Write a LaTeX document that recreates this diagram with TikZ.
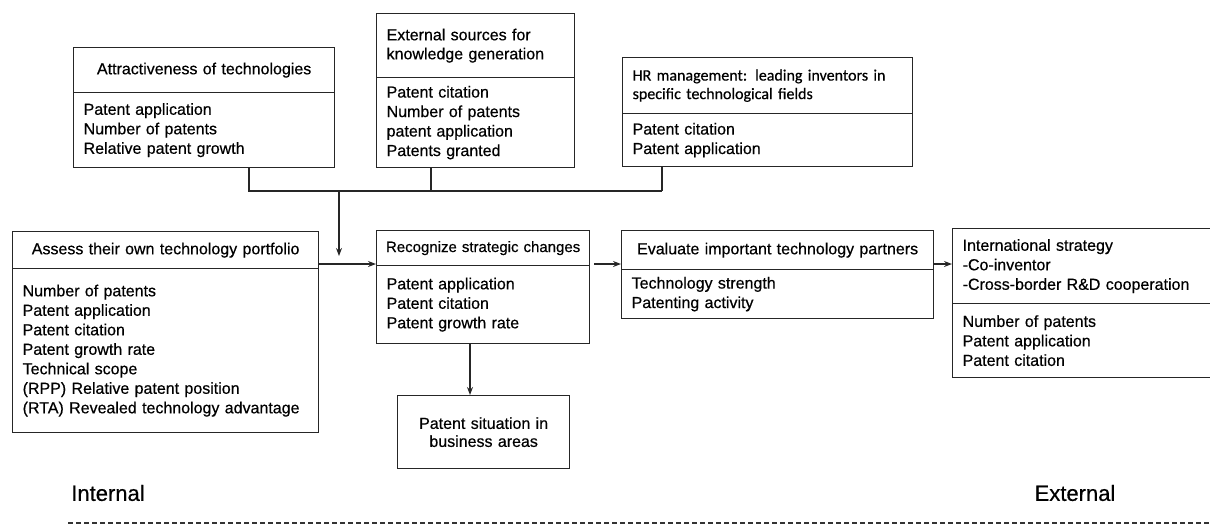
\documentclass[tikz,border=0pt]{standalone}
\usepackage{fontspec}
\setmainfont{Liberation Sans}[FakeBold=0.5]
\newfontfamily\calib{Carlito}[FakeBold=0.5]
\usetikzlibrary{arrows.meta}
\tikzset{
  bx/.style={draw=black!85, line width=1.3pt, anchor=north west, inner xsep=0pt, inner ysep=0pt,
    text=black, font=\fontsize{16}{19.5}\selectfont},
  lft/.style={align=left},
  ctr/.style={align=center},
  conn/.style={draw=black!85, line width=1.3pt},
  arr/.style={conn, -{Stealth[length=8pt,width=6pt]}},
  side/.style={text=black, font=\fontsize{22}{26}\selectfont, inner sep=0pt}
}
\begin{document}
\begin{tikzpicture}[x=1pt,y=-1pt]
\useasboundingbox (0,0) rectangle (1210,531);
% top row
\node[bx, ctr, minimum width=261pt, minimum height=45pt, text width=241pt] (attH) at (73,47) {Attractiveness of technologies};
\node[bx, lft, minimum width=261pt, minimum height=75pt, text width=241pt] (attB) at (73,92) {Patent application\\Number of patents\\Relative patent growth};
\node[bx, lft, minimum width=198pt, minimum height=64pt, text width=178pt, font=\fontsize{16}{19}\selectfont] (extH) at (376,13) {External sources for\\knowledge generation};
\node[bx, lft, minimum width=198pt, minimum height=90pt, text width=178pt] (extB) at (376,77) {Patent citation\\Number of patents\\patent application\\Patents granted};
\node[bx, lft, minimum width=290pt, minimum height=56pt, text width=270pt, font=\calib\fontsize{16}{18.5}\selectfont] (hrH) at (622,57) {HR management: leading inventors in\\specific technological fields};
\node[bx, lft, minimum width=290pt, minimum height=53pt, text width=270pt] (hrB) at (622,113) {Patent citation\\Patent application};
% middle row
\node[bx, ctr, minimum width=306pt, minimum height=37pt, text width=286pt] (asH) at (12,231) {Assess their own technology portfolio};
\node[bx, lft, minimum width=306pt, minimum height=164pt, text width=286pt] (asB) at (12,268) {Number of patents\\Patent application\\Patent citation\\Patent growth rate\\Technical scope\\(RPP) Relative patent position\\(RTA) Revealed technology advantage};
\node[bx, ctr, minimum width=213pt, minimum height=35pt, text width=207pt, font=\fontsize{15}{18}\selectfont] (recH) at (376,230) {Recognize strategic changes};
\node[bx, lft, minimum width=213pt, minimum height=78pt, text width=193pt] (recB) at (376,265) {Patent application\\Patent citation\\Patent growth rate};
\node[bx, ctr, minimum width=172pt, minimum height=73pt, text width=152pt, font=\fontsize{16}{18}\selectfont] (patS) at (397,395) {Patent situation in\\business areas};
\node[bx, ctr, minimum width=312pt, minimum height=39pt, text width=292pt] (evH) at (621,230) {Evaluate important technology partners};
\node[bx, lft, minimum width=312pt, minimum height=49pt, text width=292pt] (evB) at (621,269) {Technology strength\\Patenting activity};
\node[bx, lft, minimum width=272pt, minimum height=75pt, text width=252pt] (intH) at (952,228) {International strategy\\-Co-inventor\\-Cross-border R\&D cooperation};
\node[bx, lft, minimum width=272pt, minimum height=74pt, text width=252pt] (intB) at (952,303) {Number of patents\\Patent application\\Patent citation};
% side labels
\node[side] (inl) at (108,493) {Internal};
\node[side] (exl) at (1075,493) {External};
% connector coordinates
\coordinate (jA) at (249,191);
\coordinate (jE) at (431,191);
\coordinate (jH) at (662,191);
\coordinate (jM) at (339,191);
\coordinate (tip) at (339,256);
\coordinate (ay) at (0,264);
\coordinate (ax) at (470,0);
\coordinate (dL) at (68,523);
\coordinate (dR) at (1210,523);
% connectors
\draw[conn] (attB.south -| jA) -- (jA) -- (jH);
\draw[conn] (extB.south -| jE) -- (jE);
\draw[conn] (hrB.south -| jH) -- (jH);
\draw[arr] (jM) -- (tip);
\draw[arr] (asH.east |- ay) -- (recH.west |- ay);
\draw[arr, shorten <=4pt] (recH.east |- ay) -- (evH.west |- ay);
\draw[arr] (evH.east |- ay) -- (intH.west |- ay);
\draw[arr] (recB.south -| ax) -- (patS.north -| ax);
\draw[draw=black!80, line width=1.6pt, dash pattern=on 5pt off 3pt] (dL) -- (dR);
\end{tikzpicture}
\end{document}
